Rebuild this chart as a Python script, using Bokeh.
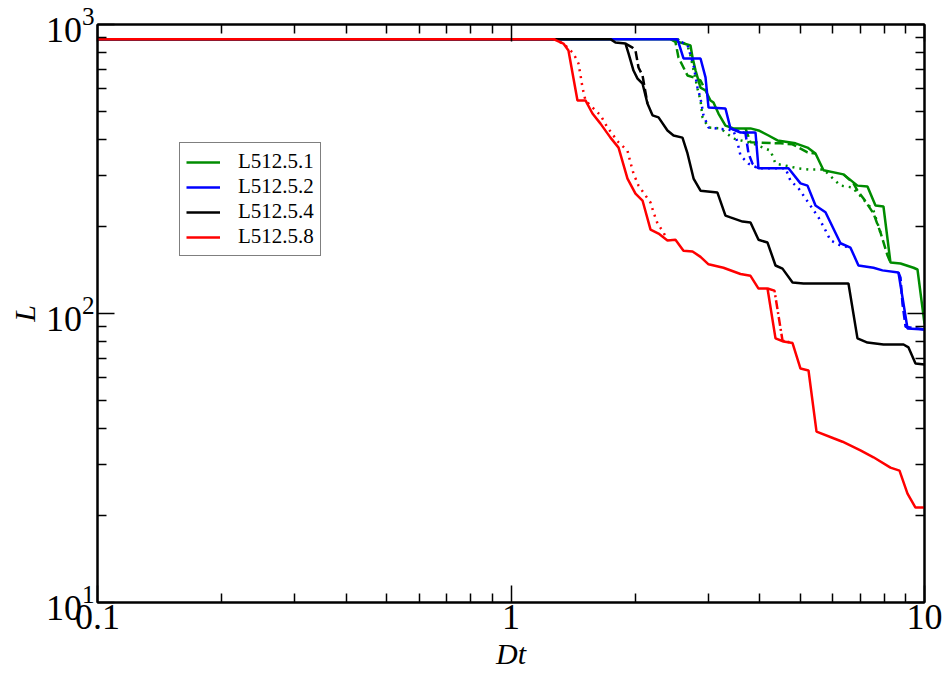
from bokeh.plotting import figure
from bokeh.models import (Range1d, LogAxis, FixedTicker, CustomJSTickFormatter,
                          Legend, LegendItem)
from bokeh.embed import file_html
from bokeh.resources import INLINE

NaN = float("nan")

# ---------------- data ----------------
series_labels = ["L512.5.1", "L512.5.2", "L512.5.4", "L512.5.8"]
colors = ["#008c00", "#0000ff", "#000000", "#ff0000"]

green_x = [0.1, 2.431, 2.570, 2.717, 2.748, 2.795, 2.873, 2.954, 3.037, 3.088, 3.175, 3.301, 3.451, 3.795,
           3.968, 4.195, 4.410, 4.877, 5.213, 5.450, 5.698, 6.369, 6.885, 7.279, 7.611, 7.957, 8.274, 8.750,
           9.406, 9.617, 10.0]
green_y = [890, 890, 866, 846, 769, 693, 605, 591, 546, 537, 492, 447, 437, 437, 430, 413, 397, 388, 375,
           358, 313, 303, 277, 275, 236.5, 234.5, 150, 149, 144, 142, 92.3]
green_dash_x = [2.431, 2.499, 2.541, 2.672, 2.764, 2.873, 2.954, NaN,
                3.690, 3.795, 4.485, 4.796, 5.213, 5.450, NaN,
                6.369, 6.733, 6.885, 7.119, 7.527, 7.826, 8.136, 8.274]
green_dash_y = [890, 870, 769, 666, 656, 640, 591, NaN,
                437, 391, 388, 385, 361, 358, NaN,
                303, 282, 266, 250, 222, 190.7, 159, 150]
green_dot_x = [2.527, 2.672, 2.717, 2.825, 2.873, 2.905, 3.004, 3.210, 3.451, 3.837, 4.242, 4.362, 4.611,
               4.932, 5.242, 5.698, 6.264, 6.696, 7.527, 7.826]
green_dot_y = [890, 846, 780, 600, 546, 477, 440, 437, 403, 388, 366, 330, 325, 318, 315, 315, 277, 273,
               227, 190.7]

blue_x = [0.1, 2.527, 2.613, 2.873, 2.954, 3.004, 3.301, 3.394, 3.589, 3.902, 3.968, 4.689, 5.013, 5.213,
          5.450, 5.762, 6.264, 6.622, 6.923, 7.527, 7.913, 8.650, 9.097, 10.0]
blue_y = [890, 890, 763, 763, 656, 516, 512, 437, 423, 423, 318, 318, 282, 277, 236.5, 224, 175, 169,
          146.6, 144, 141, 138.7, 88.7, 88]
blue_dash_x = [3.394, 3.690, 3.753, 3.837, 3.968, NaN, 8.650, 8.750, 8.847, 9.0, 10.0]
blue_dash_y = [437, 420, 358, 330, 318, NaN, 138.7, 133, 108, 90, 88]
blue_dot_x = [2.499, 2.672, 2.764, 2.825, 2.873, 2.921, 3.004, 3.451, 3.530, 3.589, 3.753, 3.968, 4.611,
              4.742, 4.960, 5.155, 5.542, 5.762, 5.925, 6.264, 6.622]
blue_dot_y = [890, 850, 721, 605, 555, 485, 440, 430, 391, 352, 330, 318, 318, 288, 271, 250, 215, 194,
              179, 172, 169]

black_x = [0.1, 1.740, 1.789, 1.892, 1.924, 1.978, 2.023, 2.080, 2.138, 2.199, 2.274, 2.390, 2.472, 2.598,
           2.672, 2.764, 2.873, 3.157, 3.301, 3.394, 3.630, 3.795, 3.968, 4.172, 4.362, 4.535, 4.796, 5.098,
           6.548, 6.885, 7.279, 7.957, 8.897, 9.148, 9.511, 10.0]
black_y = [890, 890, 866, 859, 794, 693, 650, 625, 533, 485, 477, 430, 413, 406, 358, 293, 266, 262, 218,
           215, 208, 206.5, 180, 176, 146.6, 143, 128, 127, 127, 82, 79.3, 78.1, 78.1, 76.3, 67.1, 66.6]
black_dash_x = [1.892, 1.967, 2.0, 2.034, 2.080, 2.138]
black_dash_y = [859, 832, 813, 710, 666, 533]

red_x = [0.1, 1.267, 1.339, 1.377, 1.448, 1.514, 1.574, 1.646, 1.740, 1.820, 1.913, 2.0, 2.080, 2.175,
         2.274, 2.390, 2.499, 2.613, 2.748, 2.873, 3.004, 3.264, 3.589, 3.795, 3.968, 4.172, 4.362, 4.560,
         4.796, 5.013, 5.242, 5.481, 6.025, 6.334, 7.0, 7.527, 8.274, 8.700, 9.097, 9.511, 10.0]
red_y = [890, 890, 859, 813, 546, 546, 492, 454, 406, 375, 293, 260, 246, 195, 189, 179, 180, 165, 164,
         157, 148, 144, 137, 135, 122, 122, 82, 80, 79, 64.5, 63.5, 39, 37, 36, 33.6, 31.8, 29.3, 28.6,
         23.8, 21.3, 21.3]
red_dot_x = [1.267, 1.339, 1.416, 1.456, 1.473, 1.489, 1.514, 1.646, 1.712, 1.820, 1.913, 1.945, 1.978,
             2.034, 2.175, 2.211, 2.261, 2.338, 2.390]
red_dot_y = [890, 859, 794, 733, 666, 605, 546, 485, 440, 391, 366, 333, 305, 277, 242, 224, 205, 190.7, 179]
red_dashdot_x = [4.172, 4.337, 4.535, 4.796]
red_dashdot_y = [122, 120, 80.6, 79]

x_major = [0.1, 1, 10]
x_minor = [0.2, 0.3, 0.4, 0.5, 0.6, 0.7, 0.8, 0.9, 2, 3, 4, 5, 6, 7, 8, 9]
y_major = [10, 100, 1000]
y_minor = [20, 30, 40, 50, 60, 70, 80, 90, 200, 300, 400, 500, 600, 700, 800, 900]

# ---------------- figure ----------------
FONT = "Liberation Serif"
p = figure(width=946, height=675, x_axis_type="log", y_axis_type="log",
           x_range=Range1d(0.1, 10), y_range=Range1d(10, 1000),
           output_backend="svg", toolbar_location=None,
           min_border_left=97, min_border_right=22, min_border_top=24, min_border_bottom=73)
p.xgrid.visible = False
p.ygrid.visible = False
p.outline_line_color = "black"
p.outline_line_width = 2
p.background_fill_color = "white"
p.border_fill_color = "white"


def style_axis(ax, major, minor):
    ax.ticker = FixedTicker(ticks=major, minor_ticks=minor)
    ax.axis_line_width = 2
    ax.axis_line_color = "black"
    ax.major_tick_in = 17
    ax.major_tick_out = 0
    ax.minor_tick_in = 9
    ax.minor_tick_out = 0
    ax.major_tick_line_width = 1.5
    ax.minor_tick_line_width = 1.5
    ax.major_tick_line_color = "black"
    ax.minor_tick_line_color = "black"
    ax.major_label_text_font = FONT
    ax.major_label_text_font_size = "36px"
    ax.major_label_text_color = "black"


xax = p.xaxis[0]
style_axis(xax, x_major, x_minor)
xax.formatter = CustomJSTickFormatter(code="return tick.toString()")
xax.major_label_standoff = 2
xax.axis_label = "Dt"
xax.axis_label_text_font = FONT
xax.axis_label_text_font_style = "italic"
xax.axis_label_text_font_size = "30px"
xax.axis_label_text_color = "black"
xax.axis_label_standoff = 5

yax = p.yaxis[0]
style_axis(yax, y_major, y_minor)
yax.major_label_standoff = 3
yax.axis_label = "L"
yax.axis_label_text_font = FONT
yax.axis_label_text_font_style = "italic"
yax.axis_label_text_font_size = "30px"
yax.axis_label_text_color = "black"
yax.axis_label_standoff = 2

top = LogAxis()
style_axis(top, x_major, x_minor)
top.formatter = CustomJSTickFormatter(code="return ''")
top.major_label_standoff = 0
p.add_layout(top, "above")

right = LogAxis()
style_axis(right, y_major, y_minor)
right.formatter = CustomJSTickFormatter(code="return ''")
right.major_label_standoff = 0
p.add_layout(right, "right")

LW = 2.5
DASH = "9 4"
DOT = "2 5"
DASHDOT = "9 3 2 3"

solid = []
# green
p.line(green_dash_x, green_dash_y, line_color=colors[0], line_width=LW, line_dash=DASH)
p.line(green_dot_x, green_dot_y, line_color=colors[0], line_width=LW, line_dash=DOT)
solid.append(p.line(green_x, green_y, line_color=colors[0], line_width=LW))
# blue
p.line(blue_dash_x, blue_dash_y, line_color=colors[1], line_width=LW, line_dash=DASH)
p.line(blue_dot_x, blue_dot_y, line_color=colors[1], line_width=LW, line_dash=DOT)
solid.append(p.line(blue_x, blue_y, line_color=colors[1], line_width=LW))
# black
p.line(black_dash_x, black_dash_y, line_color=colors[2], line_width=LW, line_dash=DASH)
solid.append(p.line(black_x, black_y, line_color=colors[2], line_width=LW))
# red
p.line(red_dot_x, red_dot_y, line_color=colors[3], line_width=LW, line_dash=DOT)
p.line(red_dashdot_x, red_dashdot_y, line_color=colors[3], line_width=LW, line_dash=DASHDOT)
solid.append(p.line(red_x, red_y, line_color=colors[3], line_width=LW))

legend = Legend(items=[LegendItem(label=lab, renderers=[r]) for lab, r in zip(series_labels, solid)],
                location=(82, 346))
legend.label_text_font = FONT
legend.label_text_font_size = "21px"
legend.label_text_color = "black"
legend.border_line_color = "black"
legend.border_line_width = 1
legend.background_fill_color = "white"
legend.background_fill_alpha = 1
legend.glyph_width = 34
legend.glyph_height = 24
legend.label_height = 24
legend.label_standoff = 18
legend.padding = 6
legend.spacing = 0
legend.margin = 0
p.add_layout(legend)

open("out.html", "w").write(file_html(p, INLINE))
